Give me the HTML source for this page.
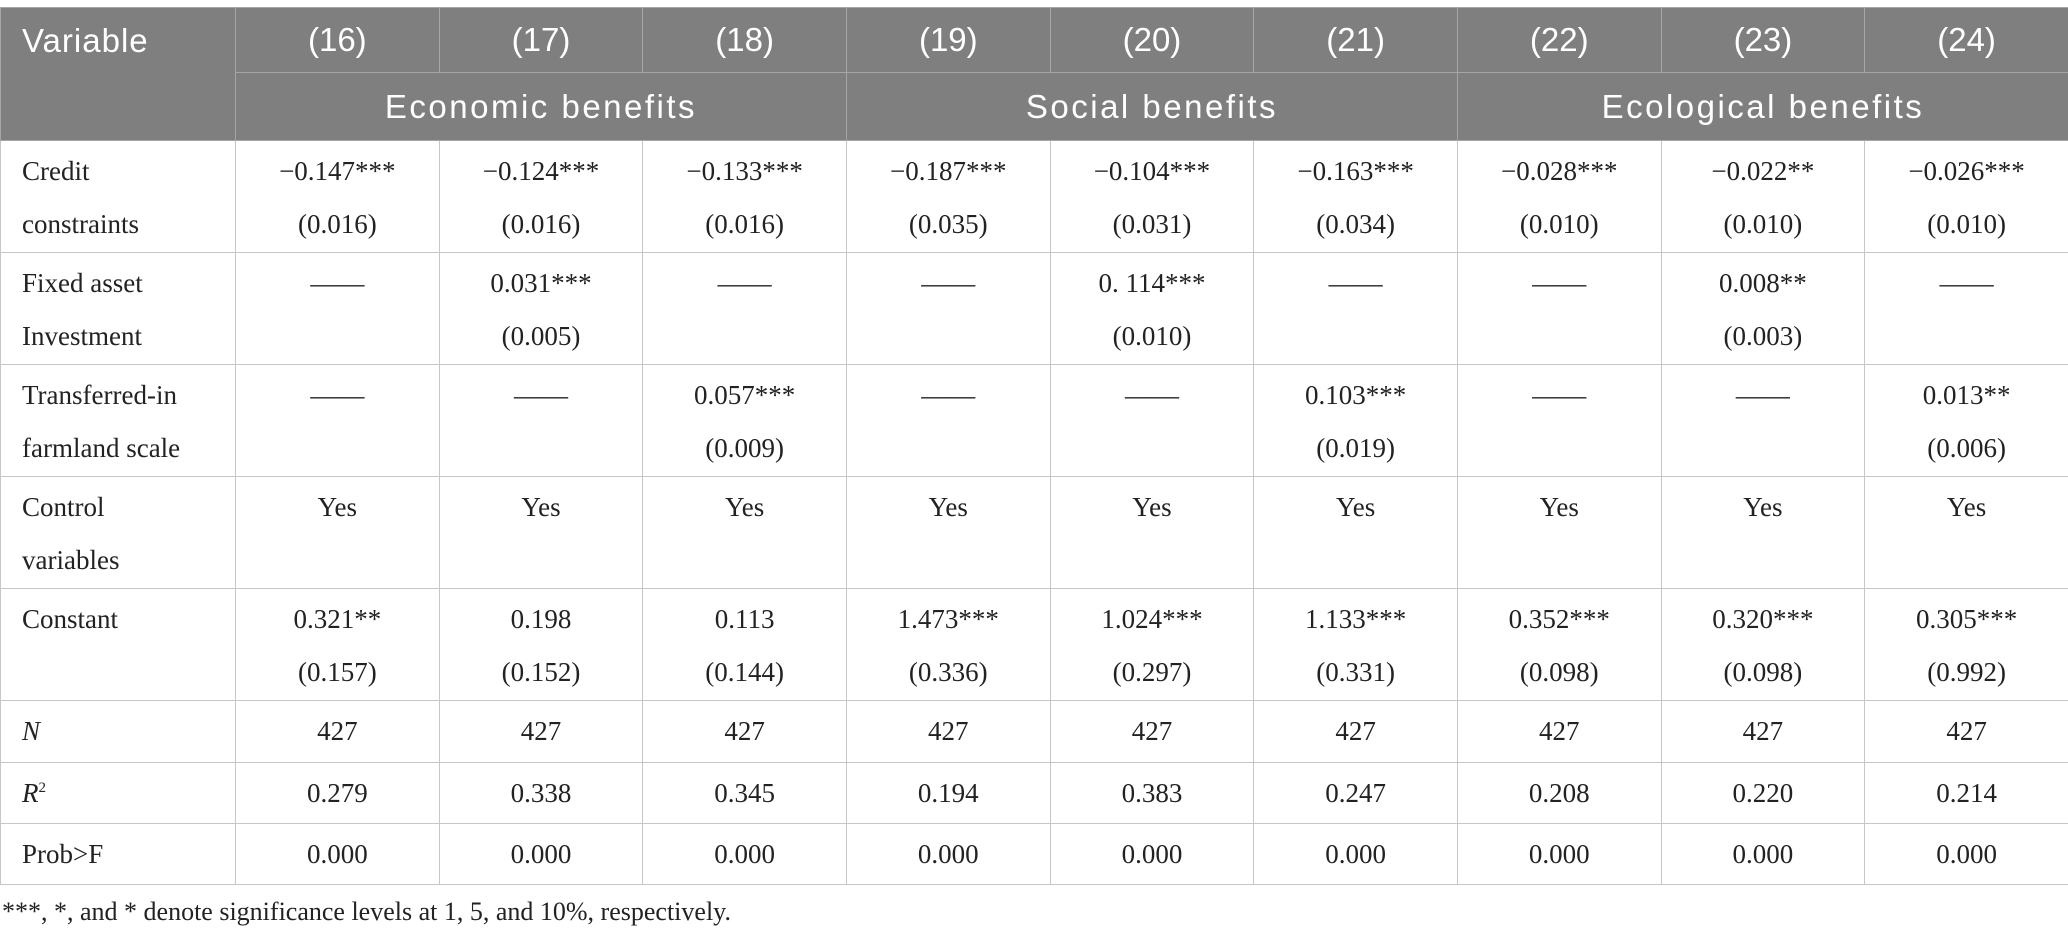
<!DOCTYPE html>
<html><head><meta charset="utf-8"><style>
body{margin:0;width:2068px;height:939px;background:#fff;overflow:hidden;position:relative}
table{position:absolute;left:0;top:7px;border-collapse:collapse;table-layout:fixed;width:2068px}
td,th{padding:0;box-sizing:border-box}
th{background:#7f7f7f;color:#fff;font-family:"Liberation Sans",sans-serif;font-weight:normal;font-size:33px;border:1px solid #a5a5a5;text-align:center}
th.g{letter-spacing:2.5px}
th.v{text-align:left;padding-left:21px;vertical-align:top;padding-top:14px;letter-spacing:1px}
td{font-family:"Liberation Serif",serif;font-size:27px;color:#222;border:1px solid #c6c6c6;text-align:center;vertical-align:top;line-height:53px;padding-top:4px}
td.l{text-align:left;padding-left:21px}
tr.s td{vertical-align:middle;padding-top:0;line-height:normal}
.note{position:absolute;left:2px;top:897px;font-family:"Liberation Serif",serif;font-size:26px;color:#222}
</style></head><body>
<table>
<colgroup><col style="width:235px"><col span="9" style="width:203.67px"></colgroup>
<tr style="height:65px"><th class="v" rowspan="2">Variable</th><th>(16)</th><th>(17)</th><th>(18)</th><th>(19)</th><th>(20)</th><th>(21)</th><th>(22)</th><th>(23)</th><th>(24)</th></tr>
<tr style="height:68px"><th class="g" colspan="3">Economic benefits</th><th class="g" colspan="3">Social benefits</th><th class="g" colspan="3">Ecological benefits</th></tr>
<tr style="height:112px"><td class="l">Credit<br>constraints</td><td>−0.147***<br>(0.016)</td><td>−0.124***<br>(0.016)</td><td>−0.133***<br>(0.016)</td><td>−0.187***<br>(0.035)</td><td>−0.104***<br>(0.031)</td><td>−0.163***<br>(0.034)</td><td>−0.028***<br>(0.010)</td><td>−0.022**<br>(0.010)</td><td>−0.026***<br>(0.010)</td></tr>
<tr style="height:112px"><td class="l">Fixed asset<br>Investment</td><td>——</td><td>0.031***<br>(0.005)</td><td>——</td><td>——</td><td>0. 114***<br>(0.010)</td><td>——</td><td>——</td><td>0.008**<br>(0.003)</td><td>——</td></tr>
<tr style="height:112px"><td class="l">Transferred-in<br>farmland scale</td><td>——</td><td>——</td><td>0.057***<br>(0.009)</td><td>——</td><td>——</td><td>0.103***<br>(0.019)</td><td>——</td><td>——</td><td>0.013**<br>(0.006)</td></tr>
<tr style="height:112px"><td class="l">Control<br>variables</td><td>Yes</td><td>Yes</td><td>Yes</td><td>Yes</td><td>Yes</td><td>Yes</td><td>Yes</td><td>Yes</td><td>Yes</td></tr>
<tr style="height:112px"><td class="l">Constant</td><td>0.321**<br>(0.157)</td><td>0.198<br>(0.152)</td><td>0.113<br>(0.144)</td><td>1.473***<br>(0.336)</td><td>1.024***<br>(0.297)</td><td>1.133***<br>(0.331)</td><td>0.352***<br>(0.098)</td><td>0.320***<br>(0.098)</td><td>0.305***<br>(0.992)</td></tr>
<tr class="s" style="height:62px"><td class="l"><i>N</i></td><td>427</td><td>427</td><td>427</td><td>427</td><td>427</td><td>427</td><td>427</td><td>427</td><td>427</td></tr>
<tr class="s" style="height:61px"><td class="l"><i>R</i><sup style="font-size:15px">2</sup></td><td>0.279</td><td>0.338</td><td>0.345</td><td>0.194</td><td>0.383</td><td>0.247</td><td>0.208</td><td>0.220</td><td>0.214</td></tr>
<tr class="s" style="height:61px"><td class="l">Prob&gt;F</td><td>0.000</td><td>0.000</td><td>0.000</td><td>0.000</td><td>0.000</td><td>0.000</td><td>0.000</td><td>0.000</td><td>0.000</td></tr>
</table>
<div class="note">***, *, and * denote significance levels at 1, 5, and 10%, respectively.</div>
</body></html>
